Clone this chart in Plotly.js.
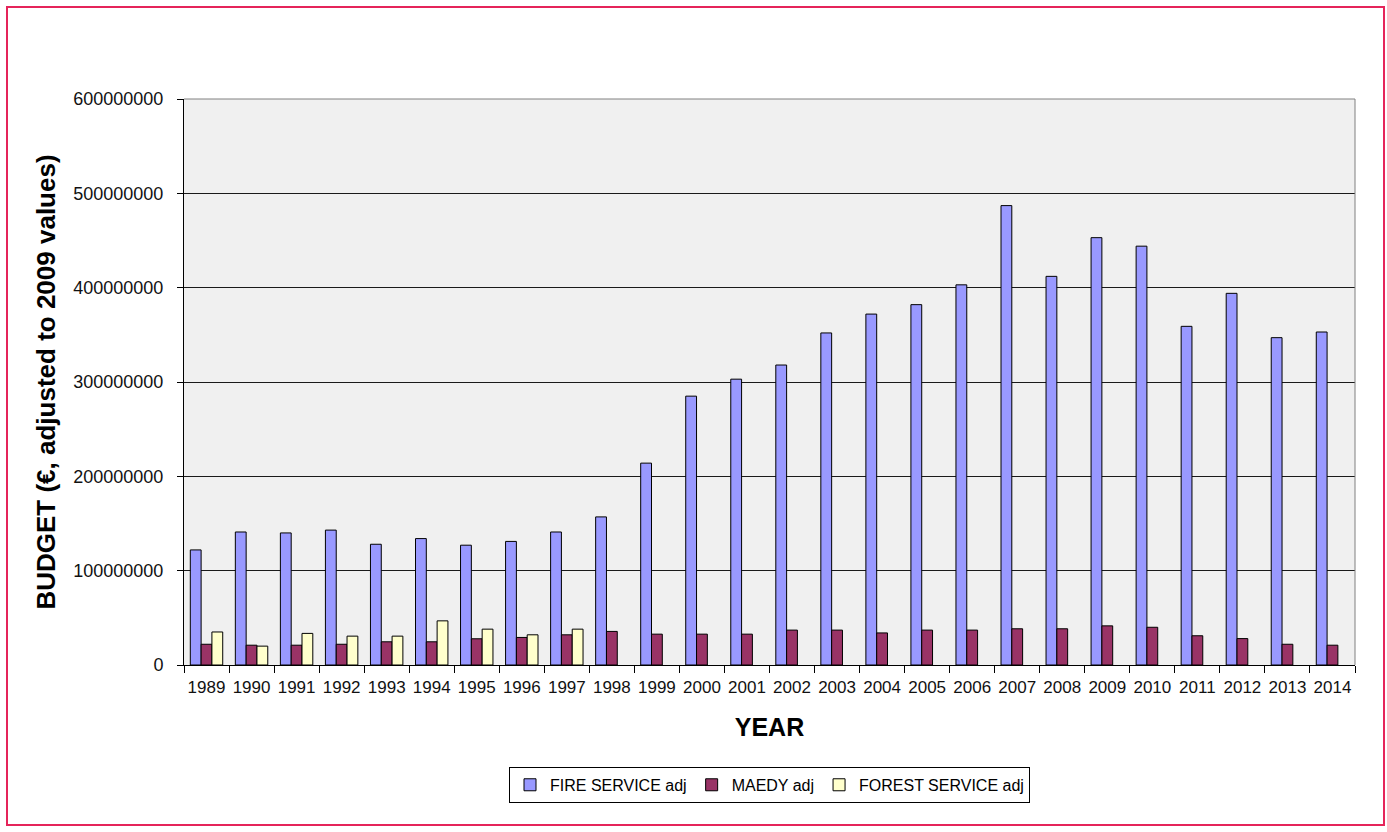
<!DOCTYPE html>
<html>
<head>
<meta charset="utf-8">
<script src="https://cdn.plot.ly/plotly-3.0.1.min.js"></script>
<style>
  html, body { margin: 0; padding: 0; background: #ffffff; }
  #wrap { position: relative; width: 1387px; height: 832px; }
  #chart { width: 1387px; height: 832px; }
  #frame {
    position: absolute; left: 6px; top: 6px; width: 1375px; height: 816px;
    border: 2px solid #e5245a; pointer-events: none;
  }
</style>
</head>
<body>
<div id="wrap">
  <div id="chart"></div>
  <div id="frame"></div>
</div>
<script>
// Annual budgets, euro adjusted to 2009 values
const years = ['1989','1990','1991','1992','1993','1994','1995','1996','1997','1998','1999','2000','2001',
               '2002','2003','2004','2005','2006','2007','2008','2009','2010','2011','2012','2013','2014'];

const fireService = [122e6, 141e6, 140e6, 143e6, 128e6, 134e6, 127e6, 131e6, 141e6, 157e6, 214e6, 285e6, 303e6,
                     318e6, 352e6, 372e6, 382e6, 403e6, 487e6, 412e6, 453e6, 444e6, 359e6, 394e6, 347e6, 353e6];

const maedy = [22e6, 21e6, 21e6, 22e6, 24.6e6, 24.6e6, 27.8e6, 29.2e6, 32e6, 35.6e6, 32.7e6, 32.7e6, 32.7e6,
               37e6, 37e6, 34e6, 37e6, 37e6, 38.4e6, 38.4e6, 41.5e6, 40e6, 31e6, 28e6, 22e6, 21e6];

const forestService = [35e6, 20e6, 33.5e6, 30.6e6, 30.6e6, 46.8e6, 38e6, 32e6, 38e6, null, null, null, null,
                       null, null, null, null, null, null, null, null, null, null, null, null, null];

const seriesNames = ['FIRE SERVICE adj', 'MAEDY adj', 'FOREST SERVICE adj'];
const seriesColors = ['#9999ff', '#993366', '#ffffcc'];
const yTicks = [0, 100000000, 200000000, 300000000, 400000000, 500000000, 600000000];

const font = 'Liberation Sans, Arial, sans-serif';

const traces = [fireService, maedy, forestService].map((vals, i) => ({
  type: 'bar',
  name: seriesNames[i],
  x: years,
  y: vals,
  marker: { color: seriesColors[i], line: { color: '#000000', width: 1 } },
  hoverinfo: 'x+y+name'
}));

const layout = {
  width: 1387,
  height: 832,
  paper_bgcolor: '#ffffff',
  plot_bgcolor: '#f0f0f0',
  margin: { l: 184, r: 32, t: 99, b: 167, pad: 0 },
  barmode: 'group',
  bargap: 0.28,
  bargroupgap: 0,
  showlegend: true,
  legend: {
    orientation: 'h',
    x: 0.5, xanchor: 'center',
    y: -0.18, yanchor: 'top',
    bgcolor: '#ffffff',
    bordercolor: '#000000',
    borderwidth: 1,
    itemwidth: 30,
    font: { family: font, size: 16, color: '#000000' },
    traceorder: 'normal'
  },
  xaxis: {
    type: 'category',
    showline: true, linecolor: '#000000', linewidth: 1,
    ticks: 'outside', tickson: 'boundaries', ticklen: 7, tickcolor: '#000000',
    tickangle: 0,
    ticklabelstandoff: 7,
    tickfont: { family: font, size: 17, color: '#111111' },
    showgrid: false,
    title: { text: 'YEAR', font: { family: font, size: 25, color: '#000000', weight: 'bold' }, standoff: 22 }
  },
  yaxis: {
    range: [0, 600000000],
    tickvals: yTicks,
    tickformat: 'd',
    showline: true, linecolor: '#000000', linewidth: 1,
    ticks: 'outside', ticklen: 6, tickcolor: '#000000',
    ticklabelstandoff: 10,
    tickfont: { family: font, size: 18, color: '#111111' },
    showgrid: true, gridcolor: '#1a1a1a', gridwidth: 1,
    zeroline: false,
    title: { text: 'BUDGET (€, adjusted to 2009 values)', font: { family: font, size: 26, color: '#000000', weight: 'bold' }, standoff: 10 }
  },
  shapes: [
    { type: 'line', xref: 'paper', yref: 'paper', x0: 1, x1: 1, y0: 0, y1: 1,
      line: { color: '#808080', width: 1 } },
    { type: 'line', xref: 'paper', yref: 'paper', x0: 0, x1: 1, y0: 1, y1: 1,
      line: { color: '#808080', width: 1 } }
  ]
};

Plotly.newPlot('chart', traces, layout, { displayModeBar: false, staticPlot: true });
</script>
</body>
</html>
